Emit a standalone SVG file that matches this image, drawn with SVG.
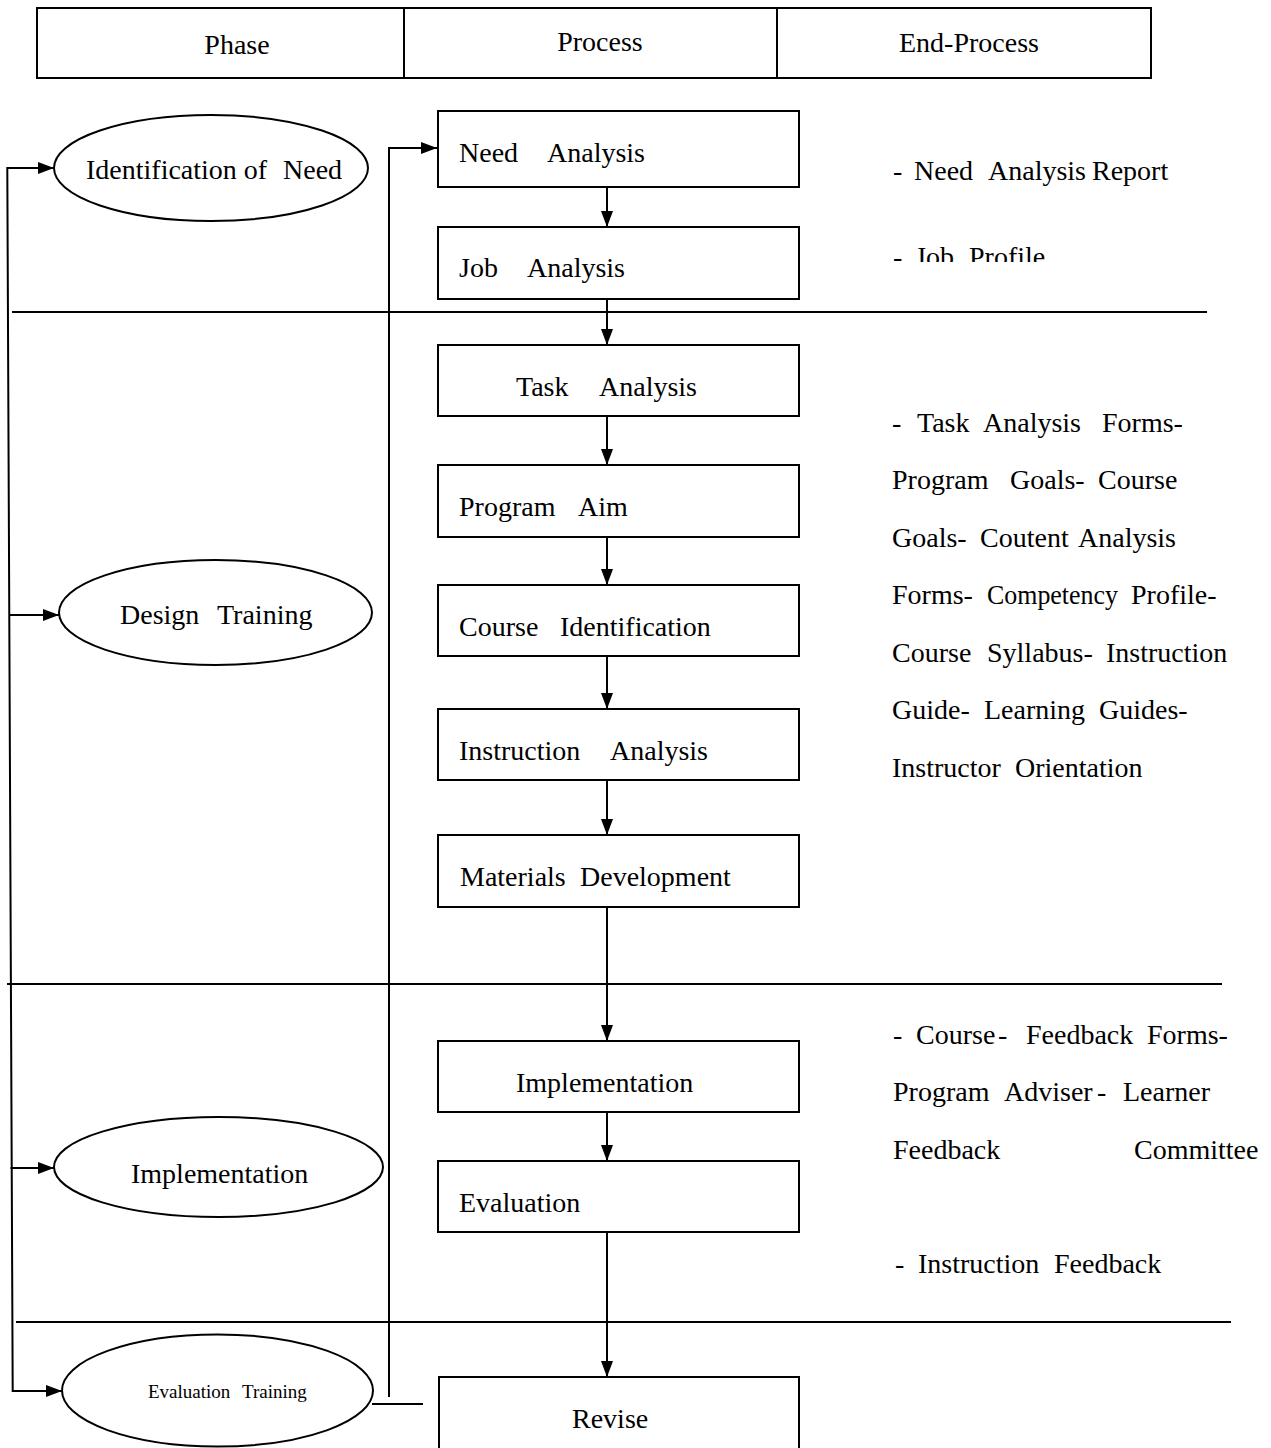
<svg xmlns="http://www.w3.org/2000/svg" width="1271" height="1448" viewBox="0 0 1271 1448">
<style>
  text { font-family: "Liberation Serif", "Times New Roman", Times, "DejaVu Serif", serif; font-size: 28px; fill: #000; }
  .box { fill: #fff; stroke: #000; stroke-width: 2; }
  .ell { fill: #fff; stroke: #000; stroke-width: 2; }
  .ln { fill: none; stroke: #000; stroke-width: 2; }
  .sep { fill: none; stroke: #000; stroke-width: 1.8; }
  .arr { fill: none; stroke: #000; stroke-width: 2; marker-end: url(#ah); }
  .small { font-size: 19px; }
</style>
<defs>
  <marker id="ah" markerUnits="userSpaceOnUse" markerWidth="17" markerHeight="13" refX="16" refY="6" orient="auto">
    <path d="M0,0 L16,6 L0,12 z" fill="#000"/>
  </marker>
  <clipPath id="clipJob"><rect x="880" y="230" width="300" height="32"/></clipPath>
</defs>

<g id="header">
  <rect x="37" y="8" width="1114" height="70" class="box"/>
  <line x1="404" y1="8" x2="404" y2="78" class="ln"/>
  <line x1="777" y1="8" x2="777" y2="78" class="ln"/>
  <text x="237" y="54" text-anchor="middle">Phase</text>
  <text x="600" y="51" text-anchor="middle">Process</text>
  <text x="969" y="52" text-anchor="middle">End-Process</text>
</g>

<g id="separators">
  <line x1="12" y1="312" x2="1207" y2="312" class="sep"/>
  <line x1="7" y1="984" x2="1222" y2="984" class="sep"/>
  <line x1="16" y1="1322" x2="1231" y2="1322" class="sep"/>
</g>

<g id="connectors">
  <polyline points="54,168 7.3,168 12.7,1391 62,1391" class="ln"/>
  <line x1="7.3" y1="168" x2="54" y2="168" class="arr"/>
  <line x1="9" y1="615" x2="59" y2="615" class="arr"/>
  <line x1="10.5" y1="1168" x2="54" y2="1168" class="arr"/>
  <line x1="12.7" y1="1391" x2="62" y2="1391" class="arr"/>
  <polyline points="389,1397 389,148 437,148" class="arr"/>
  <line x1="372" y1="1404" x2="423" y2="1404" class="ln"/>
  <line x1="607" y1="187" x2="607" y2="227" class="arr"/>
  <line x1="607" y1="299" x2="607" y2="345" class="arr"/>
  <line x1="607" y1="416" x2="607" y2="465" class="arr"/>
  <line x1="607" y1="537" x2="607" y2="585" class="arr"/>
  <line x1="607" y1="656" x2="607" y2="709" class="arr"/>
  <line x1="607" y1="780" x2="607" y2="835" class="arr"/>
  <line x1="607" y1="907" x2="607" y2="1041" class="arr"/>
  <line x1="607" y1="1112" x2="607" y2="1161" class="arr"/>
  <line x1="607" y1="1232" x2="607" y2="1377" class="arr"/>
</g>

<g id="phase-identification">
  <ellipse cx="211" cy="168" rx="157" ry="53" class="ell"/>
  <text y="179"><tspan x="86">Identification of</tspan><tspan x="283">Need</tspan></text>
</g>
<g id="phase-design">
  <ellipse cx="215.5" cy="612.5" rx="156.5" ry="52.5" class="ell"/>
  <text y="624"><tspan x="120">Design</tspan><tspan x="217">Training</tspan></text>
</g>
<g id="phase-implementation">
  <ellipse cx="218.5" cy="1167" rx="164.5" ry="50" class="ell"/>
  <text x="131" y="1183">Implementation</text>
</g>
<g id="phase-evaluation">
  <ellipse cx="217.5" cy="1390.5" rx="155.5" ry="56" class="ell"/>
  <text y="1398" class="small"><tspan x="148">Evaluation</tspan><tspan x="242">Training</tspan></text>
</g>

<g id="box-need-analysis">
  <rect x="438" y="111" width="361" height="76" class="box"/>
  <text y="162"><tspan x="459">Need</tspan><tspan x="547">Analysis</tspan></text>
</g>
<g id="box-job-analysis">
  <rect x="438" y="227" width="361" height="72" class="box"/>
  <text y="277"><tspan x="459">Job</tspan><tspan x="527">Analysis</tspan></text>
</g>
<g id="box-task-analysis">
  <rect x="438" y="345" width="361" height="71" class="box"/>
  <text y="396"><tspan x="516">Task</tspan><tspan x="599">Analysis</tspan></text>
</g>
<g id="box-program-aim">
  <rect x="438" y="465" width="361" height="72" class="box"/>
  <text y="516"><tspan x="459">Program</tspan><tspan x="578">Aim</tspan></text>
</g>
<g id="box-course-identification">
  <rect x="438" y="585" width="361" height="71" class="box"/>
  <text y="636"><tspan x="459">Course</tspan><tspan x="560">Identification</tspan></text>
</g>
<g id="box-instruction-analysis">
  <rect x="438" y="709" width="361" height="71" class="box"/>
  <text y="760"><tspan x="459">Instruction</tspan><tspan x="610">Analysis</tspan></text>
</g>
<g id="box-materials-development">
  <rect x="438" y="835" width="361" height="72" class="box"/>
  <text y="886"><tspan x="460">Materials</tspan><tspan x="580">Development</tspan></text>
</g>
<g id="box-implementation">
  <rect x="438" y="1041" width="361" height="71" class="box"/>
  <text x="516" y="1092">Implementation</text>
</g>
<g id="box-evaluation">
  <rect x="438" y="1161" width="361" height="71" class="box"/>
  <text x="459" y="1212">Evaluation</text>
</g>
<g id="box-revise">
  <rect x="439" y="1377" width="360" height="80" class="box"/>
  <text x="572" y="1428">Revise</text>
</g>

<g id="end-process-identification">
  <text y="180"><tspan x="893">-</tspan><tspan x="914">Need</tspan><tspan x="988">Analysis</tspan><tspan x="1092">Report</tspan></text>
  <text y="266" clip-path="url(#clipJob)"><tspan x="893">-</tspan><tspan x="915">Job</tspan><tspan x="969">Profile</tspan></text>
</g>

<g id="end-process-design">
  <text y="432"><tspan x="892">-</tspan><tspan x="917">Task</tspan><tspan x="983">Analysis</tspan><tspan x="1102">Forms-</tspan></text>
  <text y="489"><tspan x="892">Program</tspan><tspan x="1010">Goals-</tspan><tspan x="1098">Course</tspan></text>
  <text y="547"><tspan x="892">Goals-</tspan><tspan x="980">Coutent</tspan><tspan x="1078">Analysis</tspan></text>
  <text y="604"><tspan x="892">Forms-</tspan><tspan x="987" textLength="131" lengthAdjust="spacingAndGlyphs">Competency</tspan><tspan x="1131">Profile-</tspan></text>
  <text y="662"><tspan x="892">Course</tspan><tspan x="987">Syllabus-</tspan><tspan x="1106">Instruction</tspan></text>
  <text y="719"><tspan x="892">Guide-</tspan><tspan x="984">Learning</tspan><tspan x="1099">Guides-</tspan></text>
  <text y="777"><tspan x="892">Instructor</tspan><tspan x="1015">Orientation</tspan></text>
</g>

<g id="end-process-implementation">
  <text y="1044"><tspan x="893">-</tspan><tspan x="916">Course</tspan><tspan x="998">-</tspan><tspan x="1026">Feedback</tspan><tspan x="1147">Forms-</tspan></text>
  <text y="1101"><tspan x="893">Program</tspan><tspan x="1004">Adviser</tspan><tspan x="1097">-</tspan><tspan x="1123">Learner</tspan></text>
  <text y="1159"><tspan x="893">Feedback</tspan><tspan x="1134">Committee</tspan></text>
  <text y="1273"><tspan x="895">-</tspan><tspan x="918">Instruction</tspan><tspan x="1054">Feedback</tspan></text>
</g>
</svg>
